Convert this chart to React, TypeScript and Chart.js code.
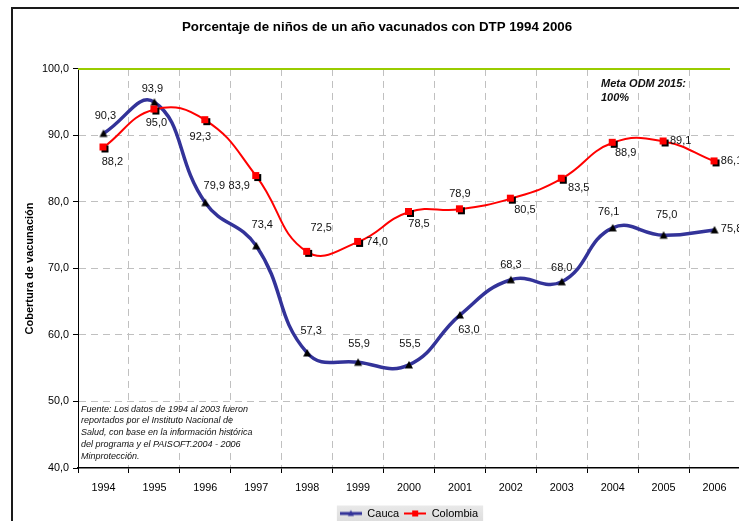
import React, { useEffect, useRef } from 'react';
import { Chart, registerables } from 'chart.js';

Chart.register(...registerables);

// ---------- data ----------
const years = ['1994', '1995', '1996', '1997', '1998', '1999', '2000', '2001', '2002', '2003', '2004', '2005', '2006'];
const cauca = [90.3, 95.0, 79.9, 73.4, 57.3, 55.9, 55.5, 63.0, 68.3, 68.0, 76.1, 75.0, 75.8];
const colombia = [88.2, 93.9, 92.3, 83.9, 72.5, 74.0, 78.5, 78.9, 80.5, 83.5, 88.9, 89.1, 86.1];
const caucaLabels = ['90,3', '93,9', '79,9', '73,4', '57,3', '55,9', '55,5', '63,0', '68,3', '68,0', '76,1', '75,0', '75,8'];
const colombiaLabels = ['88,2', '95,0', '92,3', '83,9', '72,5', '74,0', '78,5', '78,9', '80,5', '83,5', '88,9', '89,1', '86,1'];
const yMin = 40;
const yMax = 100;
const yStep = 10;
const targetValue = 100;
const seriesNames = ['Cauca', 'Colombia'];
const chartTitle = 'Porcentaje de niños de un año vacunados con DTP 1994 2006';
const yAxisTitle = 'Cobertura de vacunación';
const targetNote = ['Meta ODM 2015:', '100%'];
const sourceNote = [
  'Fuente: Los datos de 1994 al 2003 fueron',
  'reportados por el Instituto Nacional de',
  'Salud, con base en la información histórica',
  'del programa y el PAISOFT.2004 - 2006',
  'Minprotección.',
];

// ---------- styles ----------
const FONT = "'Liberation Sans', Arial, Helvetica, sans-serif";
const CAUCA_COLOR = '#333399';
const COLOMBIA_COLOR = '#ff0000';
const GRID_COLOR = '#c0c0c0';
const caucaLabelOffsets = [[2, -18], [-2, -13], [9, -17], [6, -21], [4, -22], [1, -18], [1, -21], [9, 15], [0, -15], [0, -14], [-4, -16], [3, -20], [17, -1]];
const colombiaLabelOffsets = [[9, 15], [2, 13], [-5, 17], [-17, 10], [14, -24], [19, 0], [10, 12], [0, -15], [14, 11], [17, 9], [13, 10], [17, 0], [17, 0]];

function makeCanvas(w: number, h: number) {
  const c = document.createElement('canvas');
  c.width = w;
  c.height = h;
  return c;
}

function caucaMarker() {
  const c = makeCanvas(10, 10);
  const g = c.getContext('2d')!;
  g.fillStyle = '#000';
  g.beginPath();
  g.moveTo(5, 1);
  g.lineTo(9, 8.5);
  g.lineTo(1, 8.5);
  g.closePath();
  g.fill();
  return c;
}

function colombiaMarker() {
  const c = makeCanvas(12, 12);
  const g = c.getContext('2d')!;
  g.fillStyle = '#000';
  g.fillRect(4, 4, 7, 7);
  g.fillStyle = COLOMBIA_COLOR;
  g.fillRect(2, 2, 7, 7);
  return c;
}

function caucaLegend() {
  const c = makeCanvas(22, 10);
  const g = c.getContext('2d')!;
  g.strokeStyle = CAUCA_COLOR;
  g.lineWidth = 3;
  g.beginPath();
  g.moveTo(0, 5);
  g.lineTo(22, 5);
  g.stroke();
  g.fillStyle = CAUCA_COLOR;
  g.beginPath();
  g.moveTo(11, 1.5);
  g.lineTo(14, 7.5);
  g.lineTo(8, 7.5);
  g.closePath();
  g.fill();
  return c;
}

function colombiaLegend() {
  const c = makeCanvas(22, 10);
  const g = c.getContext('2d')!;
  g.strokeStyle = COLOMBIA_COLOR;
  g.lineWidth = 2;
  g.beginPath();
  g.moveTo(0, 5);
  g.lineTo(22, 5);
  g.stroke();
  g.fillStyle = COLOMBIA_COLOR;
  g.fillRect(8, 2, 6, 6);
  return c;
}

const decorPlugin = {
  id: 'decor',
  beforeDraw(chart: any) {
    const ctx = chart.ctx;
    ctx.save();
    ctx.fillStyle = '#ffffff';
    ctx.fillRect(0, 0, chart.width, chart.height);
    const lg = chart.legend;
    if (lg && lg.legendHitBoxes && lg.legendHitBoxes.length) {
      const hb = lg.legendHitBoxes;
      const left = hb[0].left - 3;
      const last = hb[hb.length - 1];
      const right = last.left + last.width + 5;
      const cy = hb[0].top + hb[0].height / 2;
      const grad = ctx.createLinearGradient(0, cy - 8, 0, cy + 10);
      grad.addColorStop(0, '#e9e9e9');
      grad.addColorStop(1, '#dcdcdc');
      ctx.fillStyle = grad;
      ctx.fillRect(left, cy - 8, right - left, chart.height);
    }
    ctx.restore();
  },
  beforeDatasetsDraw(chart: any) {
    const ctx = chart.ctx;
    const area = chart.chartArea;
    const y = chart.scales.y.getPixelForValue(targetValue);
    ctx.save();
    ctx.strokeStyle = '#99cc00';
    ctx.lineWidth = 2;
    ctx.beginPath();
    ctx.moveTo(area.left, y);
    ctx.lineTo(area.right - 10, y);
    ctx.stroke();
    ctx.restore();
  },
  afterDatasetsDraw(chart: any) {
    const ctx = chart.ctx;
    ctx.save();
    ctx.font = `11px ${FONT}`;
    ctx.fillStyle = '#111';
    ctx.textAlign = 'center';
    ctx.textBaseline = 'middle';
    const sets = [
      { labels: caucaLabels, offsets: caucaLabelOffsets },
      { labels: colombiaLabels, offsets: colombiaLabelOffsets },
    ];
    sets.forEach((s, di) => {
      const meta = chart.getDatasetMeta(di);
      meta.data.forEach((pt: any, i: number) => {
        const [dx, dy] = s.offsets[i];
        ctx.fillText(s.labels[i], pt.x + dx, pt.y + dy);
      });
    });
    ctx.restore();
  },
  afterDraw(chart: any) {
    const ctx = chart.ctx;
    ctx.save();
    // outer frame
    ctx.strokeStyle = '#1a1a1a';
    ctx.lineWidth = 2;
    ctx.strokeRect(12, 8, chart.width + 20, chart.height + 20);
    // target note
    ctx.fillStyle = '#111';
    ctx.textAlign = 'left';
    ctx.textBaseline = 'middle';
    ctx.font = `italic bold 11px ${FONT}`;
    targetNote.forEach((t, i) => ctx.fillText(t, 601, 84 + i * 14));
    // source note
    ctx.font = `italic 9px ${FONT}`;
    sourceNote.forEach((t, i) => ctx.fillText(t, 81, 409 + i * 11.8));
    ctx.restore();
  },
};

export default function App() {
  const ref = useRef<HTMLCanvasElement | null>(null);

  useEffect(() => {
    if (!ref.current) return;
    const cm = caucaMarker();
    const km = colombiaMarker();
    const cl = caucaLegend();
    const kl = colombiaLegend();
    const chart = new Chart(ref.current, {
      type: 'line',
      data: {
        labels: years,
        datasets: [
          {
            label: seriesNames[0],
            data: cauca,
            borderColor: CAUCA_COLOR,
            backgroundColor: CAUCA_COLOR,
            borderWidth: 3.5,
            pointStyle: cm as any,
            pointRadius: 4,
            tension: 0.45,
            fill: false,
            order: 1,
          },
          {
            label: seriesNames[1],
            data: colombia,
            borderColor: COLOMBIA_COLOR,
            backgroundColor: COLOMBIA_COLOR,
            borderWidth: 2,
            pointStyle: km as any,
            pointRadius: 4,
            tension: 0.45,
            fill: false,
            order: 0,
          },
        ],
      },
      options: {
        responsive: false,
        animation: false,
        events: [],
        layout: { padding: { top: 0, left: 14, right: 20, bottom: 0 } },
        plugins: {
          title: {
            display: true,
            text: chartTitle,
            color: '#000',
            font: { family: FONT, size: 13.3, weight: 'bold' },
            padding: { top: 19, bottom: 34 },
          },
          legend: {
            display: true,
            position: 'bottom',
            fullSize: false,
            labels: {
              usePointStyle: true,
              pointStyleWidth: 22,
              boxHeight: 10,
              padding: 5,
              color: '#000',
              font: { family: FONT, size: 11 },
              generateLabels: () => [
                { text: seriesNames[0], pointStyle: cl as any, fillStyle: CAUCA_COLOR, strokeStyle: 'transparent', lineWidth: 0, hidden: false, datasetIndex: 0, fontColor: '#000' },
                { text: seriesNames[1], pointStyle: kl as any, fillStyle: COLOMBIA_COLOR, strokeStyle: 'transparent', lineWidth: 0, hidden: false, datasetIndex: 1, fontColor: '#000' },
              ],
            },
          },
          tooltip: { enabled: false },
        },
        scales: {
          x: {
            offset: true,
            ticks: { color: '#000', font: { family: FONT, size: 10.8 }, padding: 9, maxRotation: 0, autoSkip: false },
            grid: {
              offset: true,
              color: (c: any) => (c.index === 0 ? 'rgba(0,0,0,0)' : GRID_COLOR),
              lineWidth: 1,
              tickColor: '#000',
              tickLength: 5,
              tickWidth: 1,
              tickBorderDash: [],
            } as any,
            border: { color: '#000', width: 1.5, dash: [7, 5] },
            afterFit: (s: any) => { s.height = 35; },
          },
          y: {
            min: yMin,
            max: yMax,
            ticks: {
              stepSize: yStep,
              color: '#000',
              font: { family: FONT, size: 10.8 },
              padding: 4,
              callback: (v: any) => Number(v).toFixed(1).replace('.', ','),
            },
            grid: {
              color: (c: any) => (c.tick && (c.tick.value === yMin || c.tick.value === yMax) ? 'rgba(0,0,0,0)' : GRID_COLOR),
              lineWidth: 1,
              tickColor: '#000',
              tickLength: 5,
              tickWidth: 1,
              tickBorderDash: [],
            } as any,
            border: { color: '#000', width: 1, dash: [7, 5] },
            title: {
              display: true,
              text: yAxisTitle,
              color: '#000',
              font: { family: FONT, size: 11, weight: 'bold' },
              padding: { top: 9, bottom: 0 },
            },
            afterFit: (s: any) => { s.width = 64; },
          },
        },
      } as any,
      plugins: [decorPlugin],
    });
    return () => chart.destroy();
  }, []);

  return (
    <div style={{ position: 'fixed', left: 0, top: 0, width: 739, height: 521, overflow: 'hidden', background: '#fff' }}>
      <canvas ref={ref} width={760} height={529} style={{ display: 'block', width: 760, height: 529 }} />
    </div>
  );
}
